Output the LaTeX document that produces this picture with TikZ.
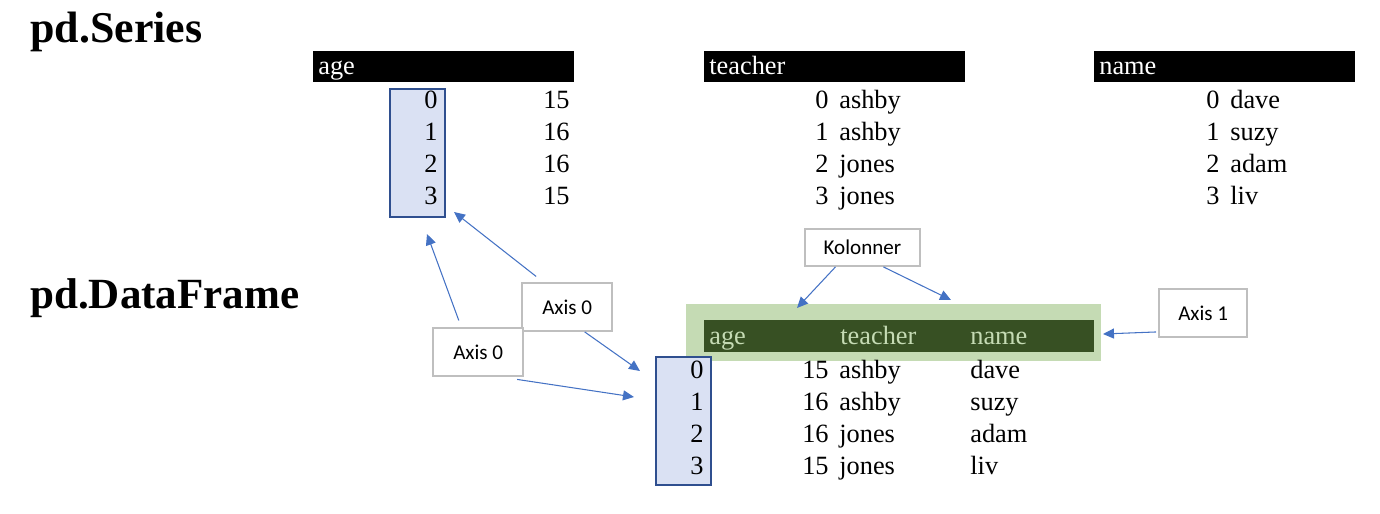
\documentclass[tikz,border=0pt]{standalone}
\usepackage{fontspec}
\setmainfont{Liberation Serif}
\newfontfamily\calibri{Carlito}
\usetikzlibrary{arrows.meta}
\definecolor{idxfill}{HTML}{DAE1F3}
\definecolor{idxline}{HTML}{2F4F8F}
\definecolor{boxgray}{HTML}{BFBFBF}
\definecolor{arrowblue}{HTML}{4472C4}
\definecolor{bandgreen}{HTML}{C5DBB4}
\definecolor{bargreen}{HTML}{375023}
\tikzset{
	title/.style={font=\fontsize{25}{28}\selectfont\bfseries, anchor=base west, inner sep=0pt},
	cell/.style={font=\fontsize{15}{17}\selectfont, inner sep=0pt},
	headbar/.style={fill=black, anchor=north west, minimum height=0.62cm,
		minimum width=5.22cm, inner sep=0pt},
	idxbox/.style={draw=idxline, fill=idxfill, line width=1.1pt, anchor=north west,
		minimum width=1.1cm, minimum height=2.56cm, inner sep=0pt},
	callout/.style={draw=boxgray, fill=white, line width=1.1pt, anchor=north west,
		font=\calibri\fontsize{12}{14}\selectfont, inner sep=0pt},
	axarrow/.style={-{Triangle[length=0.22cm,width=0.2cm]}, draw=arrowblue, line width=0.6pt}
}
\begin{document}
\begin{tikzpicture}[x=0.02cm,y=-0.02cm]
			\useasboundingbox (0,0) rectangle (1380,514);
			% titles
			\node[title] (tseries) at (30,42) {pd.Series};
			\node[title, font=\fontsize{24.5}{28}\selectfont\bfseries] (tframe) at (30,308) {pd.DataFrame};
			% the three series
			\node[headbar] (sage) at (313,51) {};
			\node[headbar] (steacher) at (704,51) {};
			\node[headbar] (sname) at (1094,51) {};
			\node[cell, text=white, anchor=mid west] (sagetxt) at (318,70.5) {age};
			\node[cell, text=white, anchor=mid west] (steachertxt) at (709,70.5) {teacher};
			\node[cell, text=white, anchor=mid west] (snametxt) at (1099,70.5) {name};
			\node[idxbox] (sidx) at (389,88) {};
			\foreach \v/\t/\n [count=\r from 0] in {15/ashby/dave,16/ashby/suzy,16/jones/adam,15/jones/liv} {
				\node[cell, anchor=mid east] (sai\r) at (438,104+32*\r) {\r};
				\node[cell, anchor=mid east] (sav\r) at (570,104+32*\r) {\v};
				\node[cell, anchor=mid east] (sti\r) at (829,104+32*\r) {\r};
				\node[cell, anchor=mid west] (stv\r) at (839,104+32*\r) {\t};
				\node[cell, anchor=mid east] (sni\r) at (1220,104+32*\r) {\r};
				\node[cell, anchor=mid west] (snv\r) at (1230,104+32*\r) {\n};
			}
			% the data frame
			\fill[bandgreen] (686,304) rectangle (1101,361);
			\node[fill=bargreen, anchor=north west, minimum width=7.8cm, minimum height=0.64cm, inner sep=0pt] (fbar) at (704,320) {};
			\node[cell, text=bandgreen, anchor=mid west] (fhage) at (709,340) {age};
			\node[cell, text=bandgreen, anchor=mid west] (fhteacher) at (840,340) {teacher};
			\node[cell, text=bandgreen, anchor=mid west] (fhname) at (970,340) {name};
			\node[idxbox] (fidx) at (655,356) {};
			\foreach \v/\t/\n [count=\r from 0] in {15/ashby/dave,16/ashby/suzy,16/jones/adam,15/jones/liv} {
				\node[cell, anchor=mid east] (fi\r) at (704,374+32*\r) {\r};
				\node[cell, anchor=mid east] (fv\r) at (829,374+32*\r) {\v};
				\node[cell, anchor=mid west] (ft\r) at (839,374+32*\r) {\t};
				\node[cell, anchor=mid west] (fn\r) at (970,374+32*\r) {\n};
			}
			% callouts
			\node[callout, minimum width=1.81cm, minimum height=0.96cm] (axup) at (521,282) {Axis 0};
			\node[callout, minimum width=1.81cm, minimum height=0.97cm] (axlo) at (432,327) {Axis 0};
			\node[callout, minimum width=2.3cm, minimum height=0.74cm] (kol) at (804,228) {Kolonner};
			\node[callout, minimum width=1.77cm, minimum height=0.96cm] (axone) at (1158,288) {Axis 1};
			\coordinate (tipa) at (427,234);
			\coordinate (tipb) at (454,212);
			\coordinate (tipc) at (640,371);
			\coordinate (tipd) at (634,397);
			\coordinate (tipe) at (797,308);
			\coordinate (tipf) at (951,300);
			\coordinate (tipg) at (1103,334);
			\draw[axarrow, shorten <=0.14cm] ([xshift=-0.34cm]axlo.north) -- (tipa);
			\draw[axarrow, shorten <=0.18cm] ([xshift=-0.48cm]axup.north) -- (tipb);
			\draw[axarrow] ([xshift=0.35cm]axup.south) -- (tipc);
			\draw[axarrow] ([xshift=0.78cm,yshift=-0.04cm]axlo.south) -- (tipd);
			\draw[axarrow] ([xshift=-0.54cm]kol.south) -- (tipe);
			\draw[axarrow] ([xshift=0.42cm]kol.south) -- (tipf);
			\draw[axarrow] ([xshift=-0.04cm,yshift=-0.38cm]axone.west) -- (tipg);
		\end{tikzpicture}
\end{document}
